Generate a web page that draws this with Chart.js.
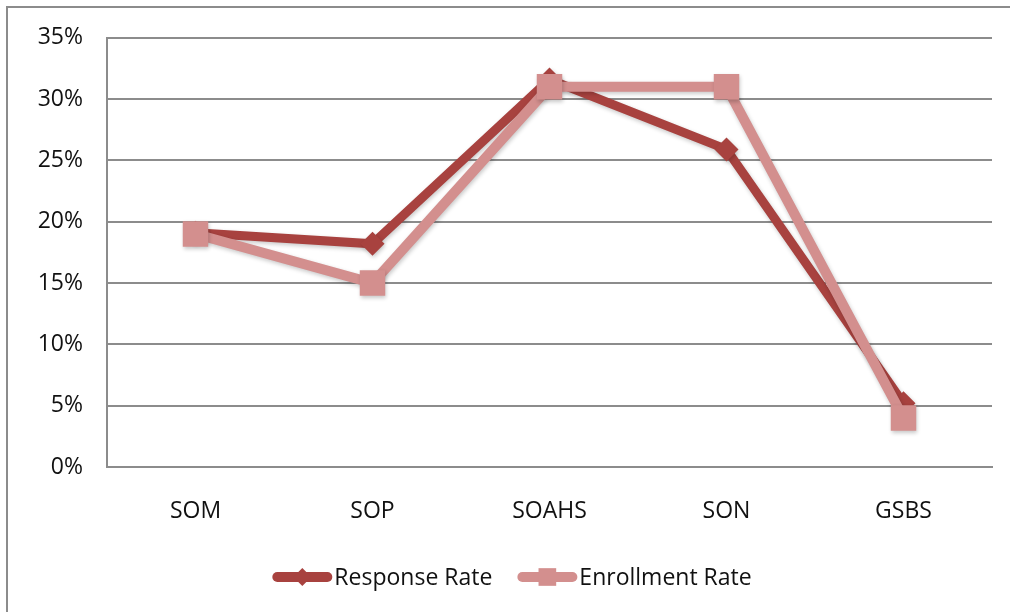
<!DOCTYPE html>
<html>
<head>
<meta charset="utf-8">
<script src="https://cdn.jsdelivr.net/npm/chart.js@4.4.1/dist/chart.umd.min.js"></script>
<style>
html, body { margin: 0; padding: 0; background: #fff; }
#wrap { position: relative; width: 1010px; height: 612px; overflow: hidden; }
#frame { position: absolute; left: 6px; top: 6px; width: 1100px; height: 700px;
         border-left: 2px solid #8c8c8c; border-top: 2px solid #8c8c8c; }
canvas { position: absolute; left: 0; top: 0; }
</style>
</head>
<body>
<div id="wrap">
  <div id="frame"></div>
  <canvas id="rateChart" width="1010" height="612"></canvas>
</div>
<script>
// schools
const categories = ["SOM", "SOP", "SOAHS", "SON", "GSBS"];
// rates in percent
const responseRate = [19.1, 18.2, 31.6, 25.9, 5.2];
const enrollmentRate = [19.0, 15.0, 31.0, 31.0, 4.0];

const FONT = "'Open Sans', 'Liberation Sans', sans-serif";
const RED = "#A8423F";
const PINK = "#D38F8E";

// soft shadow under lines and markers, like the office chart
const shadowPlugin = {
    id: "shadow",
    beforeDatasetsDraw(chart) {
        const ctx = chart.ctx;
        ctx.save();
        ctx.shadowColor = "rgba(0,0,0,0.22)";
        ctx.shadowBlur = 4;
        ctx.shadowOffsetX = 1;
        ctx.shadowOffsetY = 2;
    },
    afterDatasetsDraw(chart) {
        chart.ctx.restore();
    }
};

// legend below the chart: line swatch with marker, then the label
const legendPlugin = {
    id: "lineLegend",
    afterDraw(chart) {
        const ctx = chart.ctx;
        const items = [
            { text: "Response Rate", color: RED, style: "rectRot", r: 9 },
            { text: "Enrollment Rate", color: PINK, style: "rect", r: 12.5 }
        ];
        const swatch = 60, gap = 2, itemGap = 25, y = 577;
        ctx.save();
        ctx.font = "23px " + FONT;
        let total = 0;
        items.forEach((it, i) => {
            it.w = ctx.measureText(it.text).width;
            total += swatch + gap + it.w + (i ? itemGap : 0);
        });
        let x = 512 - total / 2;
        items.forEach(it => {
            ctx.strokeStyle = it.color;
            ctx.lineWidth = 10;
            ctx.lineCap = "round";
            ctx.beginPath();
            ctx.moveTo(x + 5, y);
            ctx.lineTo(x + swatch - 5, y);
            ctx.stroke();
            ctx.fillStyle = it.color;
            Chart.helpers.drawPoint(ctx, { pointStyle: it.style, radius: it.r, rotation: 0, borderWidth: 0 }, x + swatch / 2, y);
            ctx.fillStyle = "#111";
            ctx.textBaseline = "middle";
            ctx.textAlign = "left";
            ctx.fillText(it.text, x + swatch + gap, y + 1);
            x += swatch + gap + it.w + itemGap;
        });
        ctx.restore();
    }
};

new Chart(document.getElementById("rateChart").getContext("2d"), {
    type: "line",
    data: {
        labels: categories,
        datasets: [
            {
                label: "Response Rate",
                data: responseRate,
                borderColor: RED,
                backgroundColor: RED,
                borderWidth: 9,
                pointStyle: "rectRot",
                pointRadius: 12,
                pointBorderWidth: 0,
                pointBackgroundColor: RED,
                tension: 0,
                order: 1
            },
            {
                label: "Enrollment Rate",
                data: enrollmentRate,
                borderColor: PINK,
                backgroundColor: PINK,
                borderWidth: 10,
                pointStyle: "rect",
                pointRadius: 18,
                pointBorderWidth: 0,
                pointBackgroundColor: PINK,
                tension: 0,
                order: 0
            }
        ]
    },
    options: {
        responsive: false,
        animation: false,
        layout: { padding: { left: 0, top: 37, right: 17, bottom: 0 } },
        plugins: {
            legend: { display: false },
            tooltip: { enabled: false }
        },
        scales: {
            x: {
                offset: true,
                grid: { display: false, drawTicks: false },
                border: { display: true, color: "#8c8c8c", width: 2 },
                ticks: { color: "#111", font: { family: FONT, size: 23 }, padding: 31 },
                afterFit: s => { s.height = 145; }
            },
            y: {
                min: 0,
                max: 35,
                grid: { color: "#8c8c8c", lineWidth: 2, drawTicks: false },
                border: { display: true, color: "#8c8c8c", width: 2 },
                ticks: {
                    stepSize: 5,
                    color: "#111",
                    font: { family: FONT, size: 23 },
                    padding: 24,
                    callback: v => v + "%"
                },
                afterFit: s => { s.width = 107; }
            }
        }
    },
    plugins: [shadowPlugin, legendPlugin]
});
</script>
</body>
</html>
